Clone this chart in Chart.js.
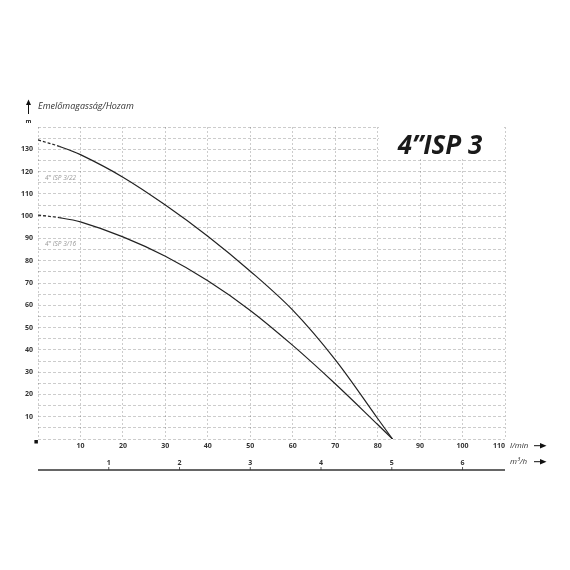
<!DOCTYPE html>
<html>
<head>
<meta charset="utf-8">
<script src="https://cdn.jsdelivr.net/npm/chart.js@4/dist/chart.umd.min.js"></script>
<style>
  html, body { margin: 0; padding: 0; background: #fff; }
  #wrap { width: 570px; height: 570px; }
</style>
</head>
<body>
<div id="wrap"><canvas id="c" width="570" height="570"></canvas></div>
<script>
// ---- data ----
const flowLmin = [0, 5, 10, 20, 30, 40, 50, 60, 70, 80, 83.5];
const head322 = [134.2, 131.3, 127.6, 117.5, 105, 91, 75.3, 57.8, 35.6, 9.2, 0];
const head316 = [100.5, 99.3, 97.4, 90.7, 82, 71, 57.7, 42, 24.8, 6.5, 0];
const seriesNames = ['4" ISP 3/22', '4" ISP 3/16'];
const xTickValues = [10, 20, 30, 40, 50, 60, 70, 80, 90, 100, 110];
const yTickValues = [10, 20, 30, 40, 50, 60, 70, 80, 90, 100, 110, 120, 130];
const m3TickValues = [1, 2, 3, 4, 5, 6];
const titleText = '4\u201DISP 3';
const yTitle = 'Emelőmagasság/Hozam';
const yUnit = 'm';
const xUnit = 'l/min';
const x2Unit = 'm\u00B3/h';
const LMIN_TO_M3H = 0.06;
const X_MAX = 110, Y_MAX = 140;

const toPts = ys => flowLmin.map((x, i) => ({x, y: ys[i]}));
const dashFirst = ctx => ctx.p0DataIndex === 0 ? [3, 2] : undefined;

const tickFont = {family: 'Open Sans', size: 7, weight: 'bold'};

const decor = {
  id: 'decor',
  beforeDatasetsDraw(chart) {
    const {ctx, chartArea} = chart;
    ctx.save();
    ctx.fillStyle = '#fff';
    ctx.fillRect(379, chartArea.top - 2, chartArea.right - 1 - 379, 159 - chartArea.top + 2);
    ctx.fillStyle = '#1a1a1a';
    ctx.font = 'italic bold 26px "Open Sans"';
    ctx.textAlign = 'center';
    ctx.textBaseline = 'alphabetic';
    ctx.fillText(titleText, 440, 154);
    ctx.restore();
  },
  afterDraw(chart) {
    const {ctx, chartArea, scales} = chart;
    const xs = scales.x, ys = scales.y, x2 = scales.x2;
    ctx.save();
    // y title
    ctx.fillStyle = '#333';
    ctx.font = 'italic 9px "Open Sans"';
    ctx.textBaseline = 'middle';
    ctx.textAlign = 'left';
    ctx.fillText(yTitle, 38, 106.5);
    // up arrow
    ctx.strokeStyle = '#111';
    ctx.lineWidth = 1;
    ctx.beginPath();
    ctx.moveTo(28.5, 114); ctx.lineTo(28.5, 104); ctx.stroke();
    ctx.fillStyle = '#111';
    ctx.beginPath();
    ctx.moveTo(28.5, 99.5); ctx.lineTo(31, 105); ctx.lineTo(26, 105); ctx.closePath(); ctx.fill();
    // unit m
    ctx.font = 'bold 6px "Open Sans"';
    ctx.textAlign = 'center';
    ctx.fillStyle = '#222';
    ctx.fillText(yUnit, 28.5, 121);
    // curve labels
    ctx.fillStyle = '#999';
    ctx.font = 'italic 6.5px "Open Sans"';
    ctx.textAlign = 'left';
    ctx.fillText(seriesNames[0], 45, 178);
    ctx.fillText(seriesNames[1], 45, 244);
    // unit labels with arrows
    ctx.fillStyle = '#333';
    ctx.font = 'italic 8px "Open Sans"';
    const yU1 = 445.7, yU2 = 461.7;
    ctx.fillText(xUnit, 510, yU1);
    ctx.fillText(x2Unit, 510, yU2);
    [yU1, yU2].forEach(yy => {
      ctx.strokeStyle = '#111';
      ctx.lineWidth = 1;
      ctx.beginPath(); ctx.moveTo(534, yy); ctx.lineTo(541, yy); ctx.stroke();
      ctx.fillStyle = '#111';
      ctx.beginPath(); ctx.moveTo(546.5, yy); ctx.lineTo(540, yy - 2.7); ctx.lineTo(540, yy + 2.7); ctx.closePath(); ctx.fill();
    });
    // origin square
    ctx.fillStyle = '#111';
    ctx.fillRect(xs.getPixelForValue(0) - 3.6, ys.getPixelForValue(0) + 1, 3.5, 3.5);
    // secondary axis baseline + ticks
    const ly = 470;
    ctx.strokeStyle = '#333';
    ctx.lineWidth = 1.4;
    ctx.beginPath(); ctx.moveTo(chartArea.left, ly); ctx.lineTo(chartArea.right, ly); ctx.stroke();
    ctx.lineWidth = 0.8;
    m3TickValues.forEach(v => {
      const px = x2.getPixelForValue(v);
      ctx.beginPath(); ctx.moveTo(px, ly); ctx.lineTo(px, ly - 3); ctx.stroke();
    });
    ctx.restore();
  }
};

new Chart(document.getElementById('c'), {
  type: 'line',
  data: {
    datasets: [
      {label: seriesNames[0], data: toPts(head322), borderColor: '#222', borderWidth: 1.2,
       pointRadius: 0, fill: false, tension: 0.35, segment: {borderDash: dashFirst}},
      {label: seriesNames[1], data: toPts(head316), borderColor: '#222', borderWidth: 1.2,
       pointRadius: 0, fill: false, tension: 0.35, segment: {borderDash: dashFirst}}
    ]
  },
  options: {
    responsive: false,
    animation: false,
    events: [],
    layout: {padding: {left: 0, right: 65, top: 127, bottom: 98}},
    plugins: {legend: {display: false}, tooltip: {enabled: false}, title: {display: false}},
    scales: {
      x: {
        type: 'linear', position: 'bottom', weight: 0, min: 0, max: X_MAX,
        afterFit: s => { s.height = 16; },
        afterBuildTicks: s => { s.ticks = [0].concat(xTickValues).map(v => ({value: v})); },
        ticks: {
          align: 'inner', padding: 3, color: '#333', font: tickFont, maxRotation: 0, autoSkip: false,
          callback: v => xTickValues.includes(v) ? String(v) : ''
        },
        grid: {color: 'rgba(0,0,0,0.2)', lineWidth: 1, drawTicks: false},
        border: {display: false, dash: [2, 2]}
      },
      x2: {
        type: 'linear', position: 'bottom', weight: 1, min: 0, max: X_MAX * LMIN_TO_M3H,
        afterFit: s => { s.height = 17; },
        afterBuildTicks: s => { s.ticks = m3TickValues.map(v => ({value: v})); },
        ticks: {padding: 3.5, color: '#333', font: tickFont, maxRotation: 0, autoSkip: false,
          callback: v => String(v)},
        grid: {display: false, drawOnChartArea: false, drawTicks: false},
        border: {display: false}
      },
      y: {
        type: 'linear', position: 'left', min: 0, max: Y_MAX,
        afterFit: s => { s.width = 38; },
        afterBuildTicks: s => {
          const t = [];
          for (let v = 0; v <= Y_MAX; v += 5) t.push({value: v});
          s.ticks = t;
        },
        ticks: {padding: 5, color: '#333', font: tickFont, autoSkip: false,
          callback: v => yTickValues.includes(v) ? String(v) : ''},
        grid: {color: 'rgba(0,0,0,0.2)', lineWidth: 1, drawTicks: false},
        border: {display: false, dash: [3, 2]}
      }
    }
  },
  plugins: [decor]
});
</script>
</body>
</html>
